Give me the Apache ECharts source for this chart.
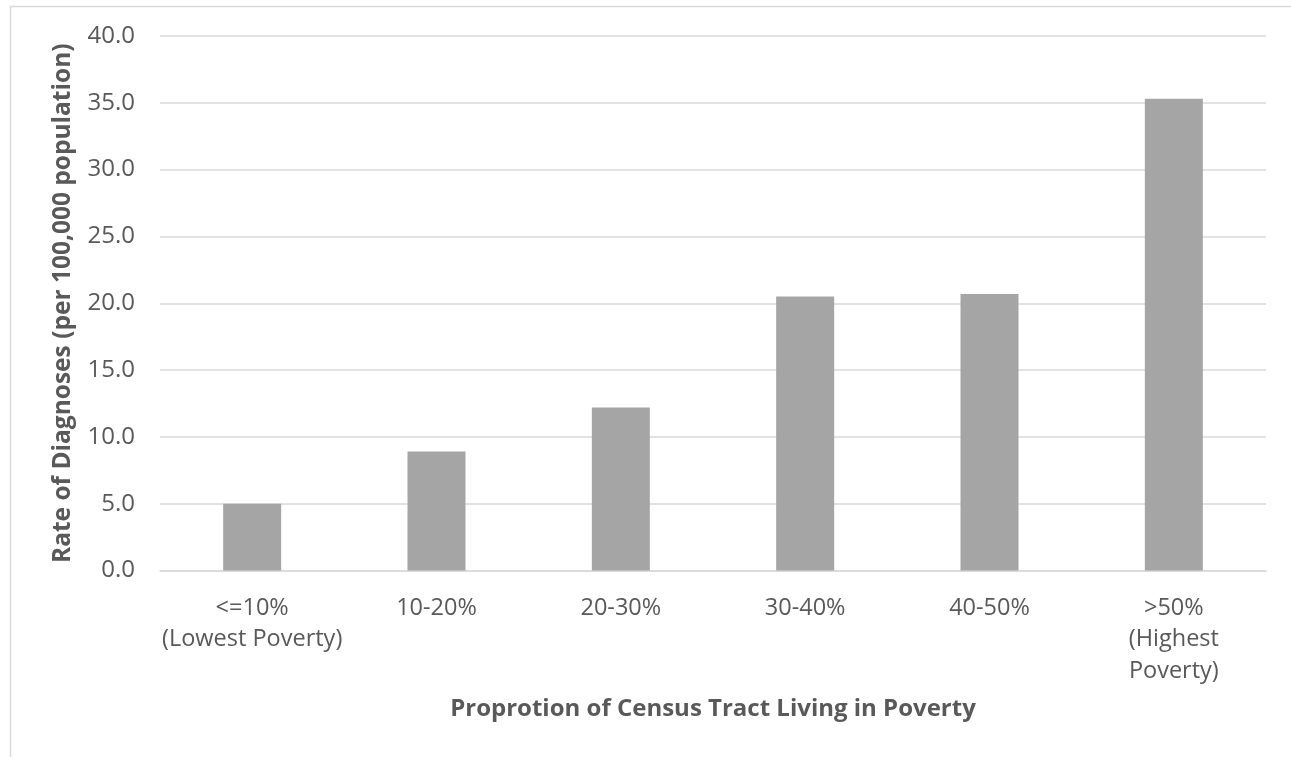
<!DOCTYPE html>
<html>
<head>
<meta charset="utf-8">
<script src="https://cdn.jsdelivr.net/npm/echarts@6/dist/echarts.min.js"></script>
<style>
  html, body { margin: 0; padding: 0; background: #ffffff; }
  #chart { width: 1291px; height: 757px; }
</style>
</head>
<body>
<div id="chart"></div>
<script>
// Poverty bands of census tracts (wrapped as shown under each bar)
const categories = [
  '<=10%\n(Lowest Poverty)',
  '10-20%',
  '20-30%',
  '30-40%',
  '40-50%',
  '>50%\n(Highest\nPoverty)'
];

// Diagnosis rate per 100,000 population for each band
const rates = [5.0, 8.9, 12.2, 20.5, 20.7, 35.3];

// Value-axis range and step
const yMin = 0;
const yMax = 40;
const yStep = 5;

const xTitle = 'Proprotion of Census Tract Living in Poverty';
const yTitle = 'Rate of Diagnoses (per 100,000 population)';

const FONT = '"Open Sans", "Noto Sans", sans-serif';
const TEXT = '#595959';
const GRID = '#d9d9d9';

const chart = echarts.init(document.getElementById('chart'), null, { renderer: 'canvas' });

chart.setOption({
  backgroundColor: '#ffffff',
  animation: false,
  graphic: [{
    type: 'rect',
    shape: { x: 10.5, y: 6.5, width: 1400, height: 1000 },
    style: { fill: 'none', stroke: GRID, lineWidth: 1.5 },
    silent: true
  }],
  grid: { left: 160, right: 25, top: 36, bottom: 186.5, containLabel: false },
  xAxis: {
    type: 'category',
    data: categories,
    name: xTitle,
    nameLocation: 'middle',
    nameGap: 127,
    nameTextStyle: { fontFamily: FONT, fontSize: 24, fontWeight: 'bold', color: TEXT },
    axisLine: { show: true, lineStyle: { color: GRID, width: 1.5 } },
    axisTick: { show: false },
    axisLabel: {
      interval: 0,
      margin: 22,
      fontFamily: FONT,
      fontSize: 23.5,
      lineHeight: 31.5,
      color: TEXT,
      align: 'center'
    }
  },
  yAxis: {
    type: 'value',
    min: yMin,
    max: yMax,
    interval: yStep,
    name: yTitle,
    nameLocation: 'middle',
    nameGap: 84,
    nameRotate: 90,
    nameTextStyle: { fontFamily: FONT, fontSize: 24.5, fontWeight: 'bold', color: TEXT },
    axisLine: { show: false },
    axisTick: { show: false },
    axisLabel: {
      margin: 25,
      fontFamily: FONT,
      fontSize: 24,
      color: TEXT,
      formatter: v => v.toFixed(1)
    },
    splitLine: { show: true, lineStyle: { color: GRID, width: 1.5 } }
  },
  series: [{
    type: 'bar',
    data: rates,
    barWidth: 58,
    itemStyle: { color: '#a5a5a5' }
  }]
});
</script>
</body>
</html>
